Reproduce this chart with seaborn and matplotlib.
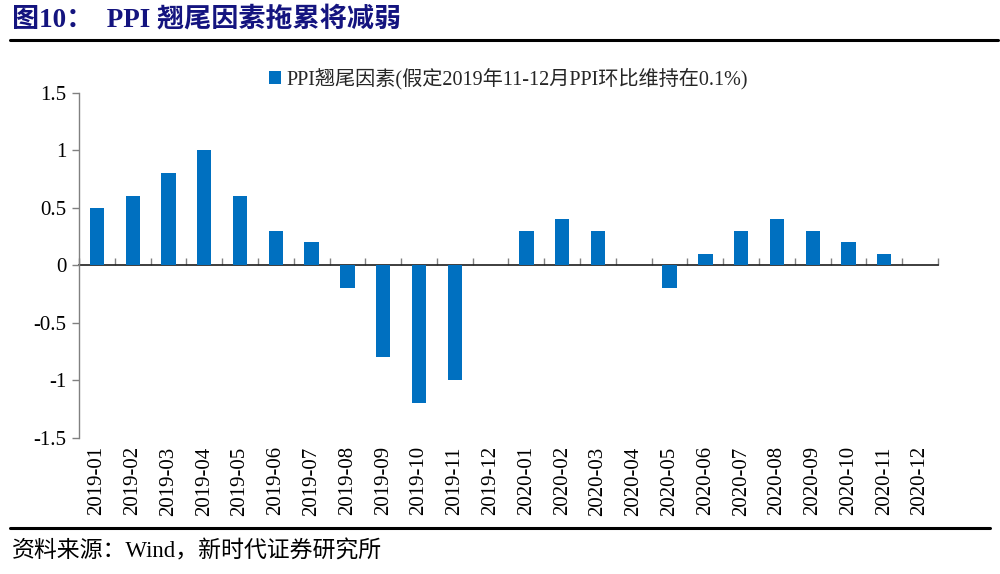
import matplotlib
matplotlib.use("Agg")
import matplotlib.pyplot as plt
import seaborn as sns
import pandas as pd
import numpy as np

months = ["2019-01", "2019-02", "2019-03", "2019-04", "2019-05", "2019-06",
          "2019-07", "2019-08", "2019-09", "2019-10", "2019-11", "2019-12",
          "2020-01", "2020-02", "2020-03", "2020-04", "2020-05", "2020-06",
          "2020-07", "2020-08", "2020-09", "2020-10", "2020-11", "2020-12"]
values = [0.5, 0.6, 0.8, 1.0, 0.6, 0.3, 0.2, -0.2, -0.8, -1.2, -1.0, 0.0,
          0.3, 0.4, 0.3, 0.0, -0.2, 0.1, 0.3, 0.4, 0.3, 0.2, 0.1, 0.0]
series_name = "PPI翘尾因素(假定2019年11-12月PPI环比维持在0.1%)"
y_ticks = [-1.5, -1, -0.5, 0, 0.5, 1, 1.5]
y_tick_labels = ["-1.5", "-1", "-0.5", "0", "0.5", "1", "1.5"]
title_text = "图10：  PPI 翘尾因素拖累将减弱"
source_text = "资料来源：Wind，新时代证券研究所"

sns.set_theme(style="white")
plt.rcParams['font.family'] = ['Liberation Serif', 'Noto Sans CJK SC']
plt.rcParams['axes.unicode_minus'] = False

df = pd.DataFrame({"month": months, "value": values, "series": series_name})

fig = plt.figure(figsize=(10, 5.74), dpi=100)
ax = fig.add_axes([0.079, 0.237, 0.859, 0.601])

sns.barplot(data=df, x="month", y="value", hue="series", palette=["#0070C0"],
            width=0.4, ax=ax, edgecolor="none", linewidth=0, saturation=1)

ax.set_ylim(-1.5, 1.5)
ax.set_xlim(-0.5, len(months) - 0.5)
ax.set_yticks(y_ticks)
ax.set_yticklabels(y_tick_labels, fontsize=15)
ax.set_xticks(range(len(months)))
ax.set_xticklabels(months, rotation=90, fontsize=15)
ax.set_xlabel("")
ax.set_ylabel("")

for s in ["top", "right", "bottom"]:
    ax.spines[s].set_visible(False)
ax.spines["left"].set_color("#808080")
ax.spines["left"].set_linewidth(1)
ax.tick_params(axis="y", which="major", direction="out", length=5, width=1,
               color="#808080", left=True, pad=4, labelcolor="black")
ax.tick_params(axis="x", which="major", length=0, pad=6, labelcolor="black")

# zero axis with category boundary ticks
sec = ax.secondary_xaxis(0.5)
sec.set_xticks(np.arange(len(months) + 1) - 0.5)
sec.set_xticklabels([])
sec.spines["bottom"].set_color("#808080")
sec.spines["bottom"].set_linewidth(1)
sec.tick_params(axis="x", direction="out", length=5, width=1, color="#808080")

leg = ax.legend(loc="lower center", bbox_to_anchor=(0.5, 0.975), frameon=False,
                fontsize=14.5, handlelength=0.6, handleheight=0.6,
                handletextpad=0.3, borderaxespad=0.2)

fig.text(0.012, 0.965, title_text, fontsize=19.5, fontweight="bold",
         color="#14147F", va="center", ha="left")
fig.add_artist(plt.Line2D([0.01, 0.998], [0.93, 0.93], color="black",
                          linewidth=2.2, transform=fig.transFigure))
fig.add_artist(plt.Line2D([0.01, 0.99], [0.08, 0.08], color="black",
                          linewidth=2.2, transform=fig.transFigure))
fig.text(0.012, 0.04, source_text, fontsize=16.5, color="black",
         va="center", ha="left")

fig.savefig("out.png", dpi=100, facecolor="white")
